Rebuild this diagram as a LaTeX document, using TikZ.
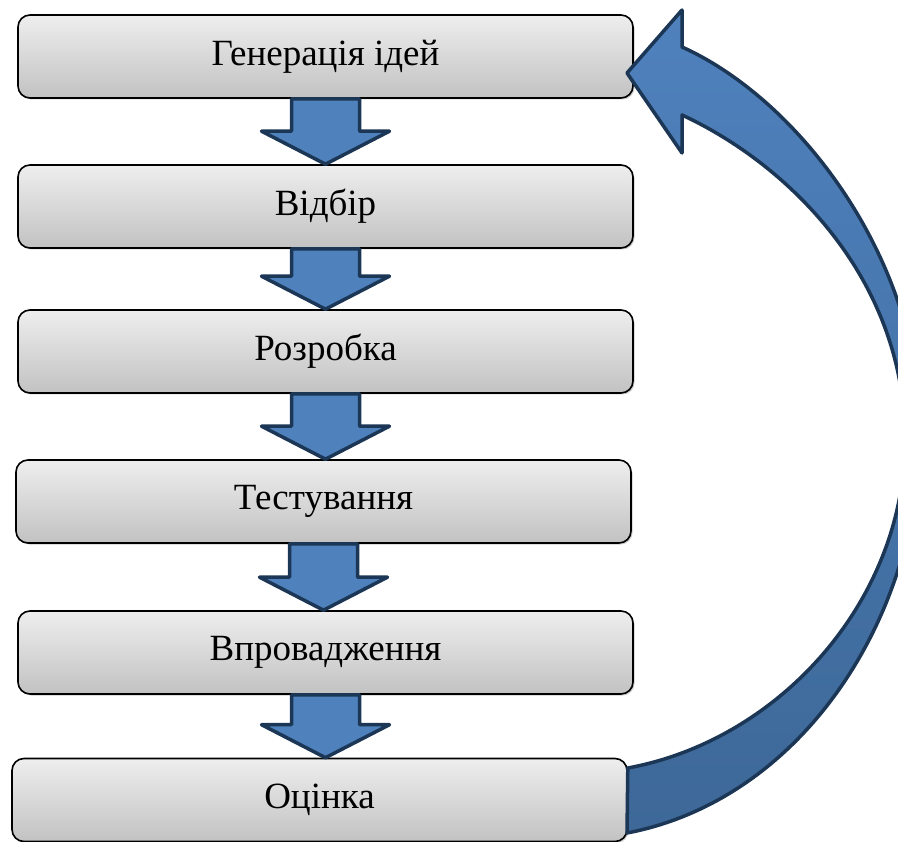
\documentclass[tikz,border=0pt]{standalone}
\usepackage{fontspec}
\setmainfont{Liberation Serif}
\usetikzlibrary{calc,shadows}
\definecolor{arrowfill}{HTML}{4F81BD}
\definecolor{arrowline}{HTML}{1C3656}
\definecolor{arrowdark}{HTML}{3D6898}
\definecolor{boxtop}{HTML}{EEEEEE}
\definecolor{boxbot}{HTML}{C2C2C2}
\tikzset{
  stage/.style={draw=black, line width=1.6pt, rounded corners=12pt,
    minimum width=615pt, minimum height=83pt, inner sep=0pt,
    top color=boxtop, bottom color=boxbot,
    font=\fontsize{37}{44}\selectfont,
    drop shadow={shadow xshift=1.5pt, shadow yshift=-1.5pt, opacity=0.35, fill=black!60}},
  blockarrow/.style={draw=arrowline, fill=arrowfill, line width=3.5pt, line join=round},
  looparrow/.style={draw=arrowline, line width=3.5pt, line join=round,
    top color=arrowfill, bottom color=arrowdark},
}
\newcommand\flowarrow[2]{%
  \path[blockarrow] let \p1=(#1.south), \p2=(#2.north) in
    (\x1-34pt,\y1) -- (\x1+34pt,\y1) -- (\x1+34pt,\y2+33pt) -- (\x1+64pt,\y2+33pt)
    -- (\x1,\y2) -- (\x1-64pt,\y2+33pt) -- (\x1-34pt,\y2+33pt) -- cycle;}
\begin{document}
\begin{tikzpicture}[x=1pt,y=-1pt]
\useasboundingbox (0,0) rectangle (898,842);
\clip (0,0) rectangle (898,842);
\node[stage] (b1) at (325.5,56.5) {Генерація ідей};
\node[stage] (b2) at (325.5,206.5) {Відбір};
\node[stage] (b3) at (325.5,351.5) {Розробка};
\node[stage] (b4) at (323.5,501.5) {Тестування};
\node[stage] (b5) at (325.5,652.5) {Впровадження};
\node[stage] (b6) at (319.5,800) {Оцінка};
\flowarrow{b1}{b2}
\flowarrow{b2}{b3}
\flowarrow{b3}{b4}
\flowarrow{b4}{b5}
\flowarrow{b5}{b6}
\coordinate (loopstart) at ($(b6.east)+(0,-32)$);
\coordinate (looptip) at (627,73);
\path[looparrow] (loopstart) .. controls (780,740) and (905,600) .. (905,440)
  .. controls (905,280) and (790,165) .. (682,115) -- (682,153) -- (looptip)
  -- (682,10) -- (682,47) .. controls (800,100) and (920,260) .. (920,430)
  .. controls (920,620) and (800,800) .. (627,833) -- cycle;
\end{tikzpicture}
\end{document}
